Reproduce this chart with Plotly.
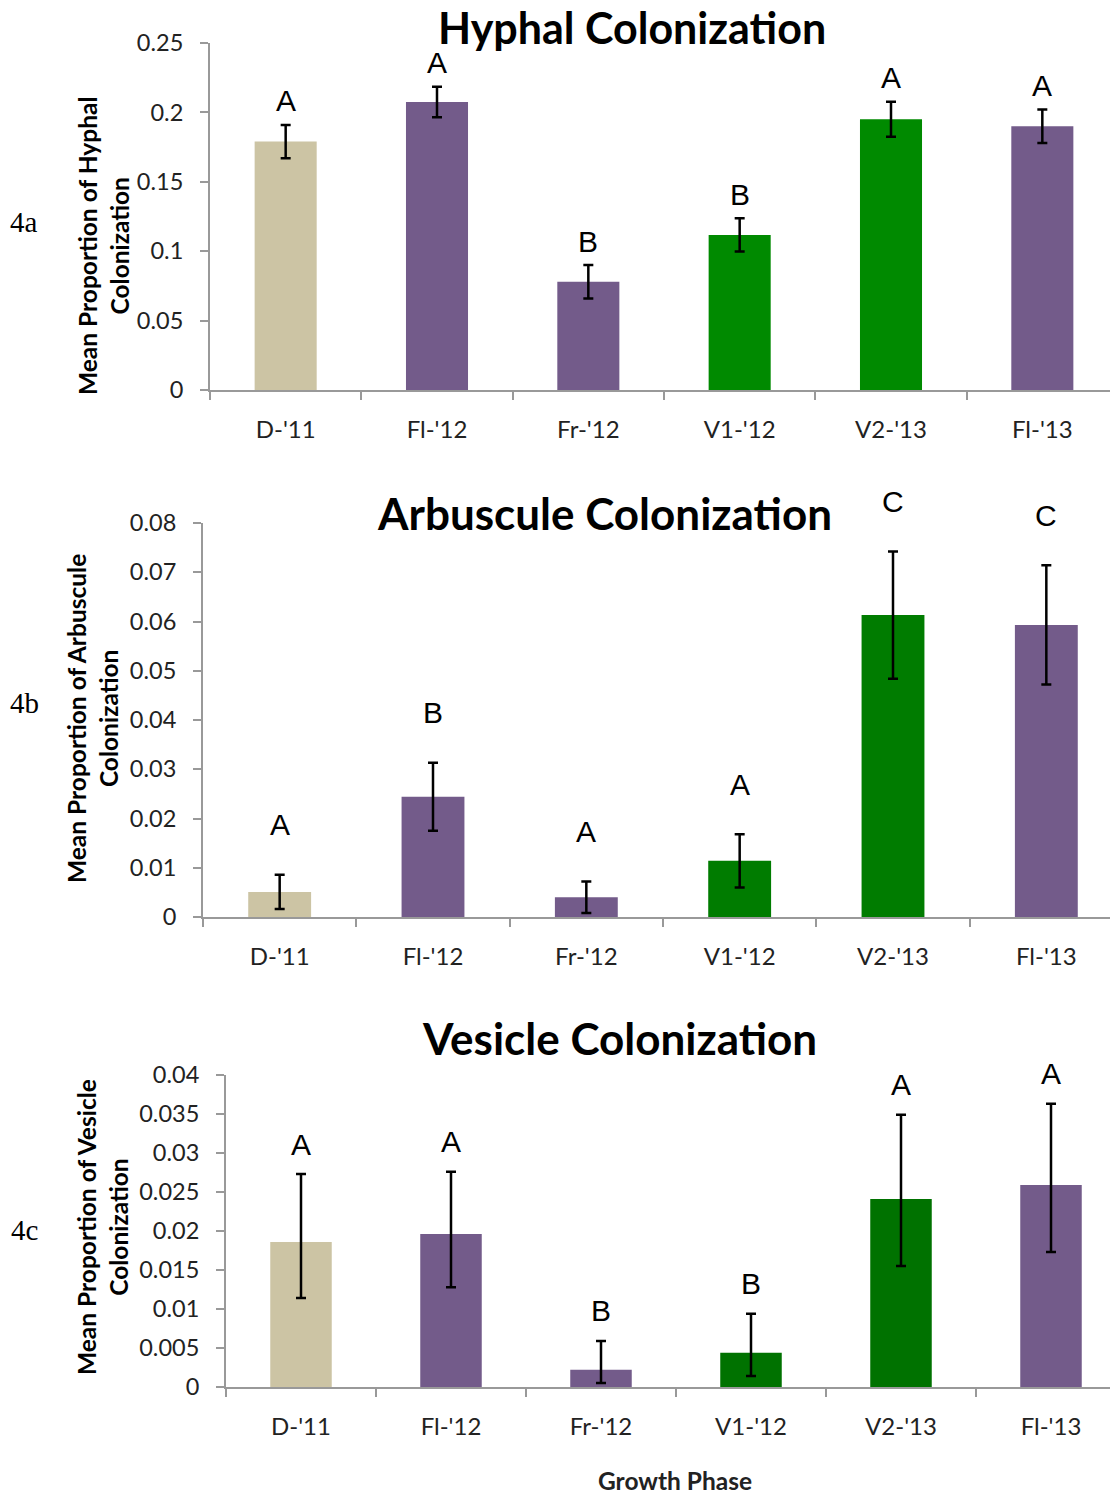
import plotly.graph_objects as go

W, H = 1118, 1493
OFF = 8  # page body margin offset

categories = ["D-'11", "Fl-'12", "Fr-'12", "V1-'12", "V2-'13", "Fl-'13"]

hyphal_mean = [0.179, 0.2075, 0.078, 0.1117, 0.195, 0.190]
hyphal_err = [0.012, 0.011, 0.012, 0.012, 0.0126, 0.012]
hyphal_letters = ["A", "A", "B", "B", "A", "A"]

arb_mean = [0.0051, 0.0244, 0.0040, 0.0114, 0.0613, 0.0593]
arb_err = [0.0035, 0.0069, 0.0032, 0.0054, 0.0129, 0.0121]
arb_letters = ["A", "B", "A", "A", "C", "C"]

ves_mean = [0.0186, 0.0196, 0.0022, 0.0044, 0.0241, 0.0259]
ves_err_plus = [0.0087, 0.0080, 0.0037, 0.0050, 0.0108, 0.0104]
ves_err_minus = [0.0072, 0.0068, 0.0017, 0.0030, 0.0086, 0.0086]
ves_letters = ["A", "A", "B", "B", "A", "A"]

TAN = "#CCC4A4"
PURPLE = "#735B8A"
green_a, green_b, green_c = "#008A00", "#007C00", "#007200"

def colors(g):
    return [TAN, PURPLE, PURPLE, g, g, PURPLE]

def px(x):
    return (x - OFF) / W

def py(y):
    return 1 - (y - OFF) / H

fig = go.Figure()

panels = [
    dict(mean=hyphal_mean, plus=hyphal_err, minus=hyphal_err, letters=hyphal_letters,
         color=green_a, xdom=[px(210), px(210) + 908 / W], ydom=[py(390), py(43)],
         yr=[0, 0.25], dt=0.05, shift=24, sfx="", full=908),
    dict(mean=arb_mean, plus=arb_err, minus=arb_err, letters=arb_letters,
         color=green_b, xdom=[px(203), px(203) + 920 / W], ydom=[py(917), py(523)],
         yr=[0, 0.08], dt=0.01, shift=50, sfx="2", full=920),
    dict(mean=ves_mean, plus=ves_err_plus, minus=ves_err_minus, letters=ves_letters,
         color=green_c, xdom=[px(226), px(226) + 900 / W], ydom=[py(1387), py(1075)],
         yr=[0, 0.04], dt=0.005, shift=30, sfx="3", full=900),
]
for p in panels:
    p["xdom"][1] = min(p["xdom"][1], 1.0)

ytickfont = dict(family="Lato", size=23.5, color="#222")
xtickfont = dict(family="Lato", size=24, color="#222")
annotations = []
for p in panels:
    s = p["sfx"]
    span = (p["xdom"][1] - p["xdom"][0]) * W
    xr = [-0.5, -0.5 + 6 * span / p["full"]]
    fig.add_trace(go.Bar(
        x=categories, y=p["mean"], xaxis="x" + s, yaxis="y" + s,
        marker=dict(color=colors(p["color"]), line=dict(width=0)),
        width=0.41,
        error_y=dict(type="data", symmetric=False, array=p["plus"], arrayminus=p["minus"],
                     color="black", thickness=2.5, width=5),
        showlegend=False,
    ))
    fig.update_layout(**{
        "xaxis" + s: dict(domain=p["xdom"], anchor="y" + s, type="category", automargin=False,
                          range=xr, showline=True, linecolor="#999", linewidth=2,
                          ticks="outside", tickson="boundaries", ticklen=8, tickwidth=2,
                          tickcolor="#999", tickfont=xtickfont, ticklabelstandoff=17,
                          showgrid=False, zeroline=False, fixedrange=True),
        "yaxis" + s: dict(domain=p["ydom"], anchor="x" + s, range=p["yr"], dtick=p["dt"],
                          automargin=False, tick0=0, showline=True, linecolor="#999",
                          linewidth=2, ticks="outside", ticklen=8, tickwidth=2,
                          tickcolor="#999", tickfont=ytickfont, ticklabelstandoff=12,
                          showgrid=False, zeroline=False),
    })
    for c, m, e, L in zip(categories, p["mean"], p["plus"], p["letters"]):
        annotations.append(dict(x=c, y=m + e, xref="x" + s, yref="y" + s, text=L,
                                showarrow=False, yanchor="middle", yshift=p["shift"],
                                font=dict(family="Liberation Sans", size=30, color="black")))

titles = [("Hyphal Colonization", 632, 28, 43),
          ("Arbuscule Colonization", 604, 513, 44),
          ("Vesicle Colonization", 619, 1038, 44)]
for t, x, y, fs in titles:
    annotations.append(dict(x=px(x), y=py(y), xref="paper", yref="paper",
                            text="<b>%s</b>" % t, showarrow=False, xanchor="center",
                            yanchor="middle", borderpad=0,
                            font=dict(family="Lato", size=fs, color="black")))

ytitles = [("Mean Proportion of Hyphal<br>Colonization", 103, 246),
           ("Mean Proportion of Arbuscule<br>Colonization", 93, 719),
           ("Mean Proportion of Vesicle<br>Colonization", 102, 1227)]
for t, x, y in ytitles:
    annotations.append(dict(x=px(x), y=py(y), xref="paper", yref="paper", text="<b>%s</b>" % t,
                            showarrow=False, xanchor="center", yanchor="middle", textangle=-90,
                            font=dict(family="Lato", size=24.5, color="black")))

for t, y in [("4a", 222), ("4b", 703), ("4c", 1230)]:
    annotations.append(dict(x=px(24), y=py(y), xref="paper", yref="paper", text=t,
                            showarrow=False, xanchor="center", yanchor="middle",
                            font=dict(family="Liberation Serif", size=29, color="black")))

annotations.append(dict(x=px(675), y=py(1480), xref="paper", yref="paper",
                        text="<b>Growth Phase</b>", showarrow=False, xanchor="center",
                        yanchor="middle", font=dict(family="Lato", size=24.5, color="#222")))

fig.update_layout(width=W, height=H, margin=dict(l=0, r=0, t=0, b=0, autoexpand=False),
                  paper_bgcolor="white", plot_bgcolor="white", annotations=annotations,
                  bargap=0.59)

fig.write_html("out.html")
